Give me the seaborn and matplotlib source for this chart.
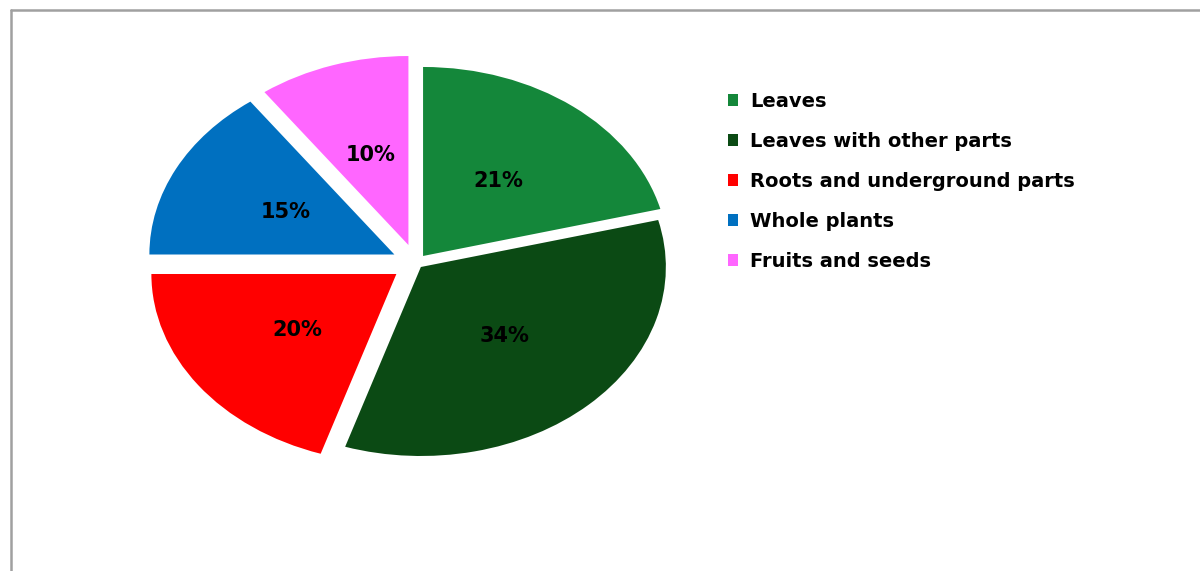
import matplotlib
matplotlib.use("Agg")
import matplotlib.pyplot as plt
from matplotlib.lines import Line2D
import seaborn as sns

# Plant parts used and their share of reported uses (%)
parts = ["Leaves", "Leaves with other parts", "Roots and underground parts",
         "Whole plants", "Fruits and seeds"]
shares = [21, 34, 20, 15, 10]

# Styling
part_colors = ["#14873A", "#0B4A14", "#FF0000", "#0070C0", "#FF66FF"]
offsets = [0.047, 0.029, 0.099, 0.099, 0.10]

sns.set_theme(style="white")
plt.rcParams["font.family"] = ["DejaVu Sans"]

W, H = 1200, 571
fig = plt.figure(figsize=(W / 100, H / 100), dpi=100)
fig.patch.set_facecolor("white")
ax = fig.add_axes([0, 0, 1, 1])

wedges, _, pct_texts = ax.pie(
    shares,
    colors=part_colors,
    explode=offsets,
    startangle=90,
    counterclock=False,
    autopct=lambda p: f"{round(p)}%",
    pctdistance=0.5,
    wedgeprops=dict(linewidth=0),
    textprops=dict(fontsize=15, fontweight="bold", color="black"),
)

# Stretch the pie into a wide ellipse: centre and radii in pixels
cx, cy, rx, ry = 416, 263, 245, 189
ax.set_aspect("auto")
ax.set_xlim(-cx / rx, (W - cx) / rx)
ax.set_ylim((cy - H) / ry, cy / ry)
ax.axis("off")

# Legend on the right
x0, y0 = 728, 92
ax.legend(
    wedges, parts,
    loc="upper left",
    bbox_to_anchor=(x0 / W, 1 - y0 / H),
    bbox_transform=fig.transFigure,
    frameon=False,
    prop=dict(weight="bold", size=14),
    labelcolor="black",
    handlelength=0.53, handleheight=0.53,
    handletextpad=0.62, labelspacing=1.08,
    borderpad=0, borderaxespad=0,
)

# Grey frame along the top and left edges
frame = dict(color="#A0A0A0", linewidth=1.8, transform=fig.transFigure)
fig.add_artist(Line2D([11 / W, 1], [1 - 10 / H, 1 - 10 / H], **frame))
fig.add_artist(Line2D([11 / W, 11 / W], [0, 1 - 10 / H], **frame))

fig.savefig("out.png", dpi=100, facecolor="white")
